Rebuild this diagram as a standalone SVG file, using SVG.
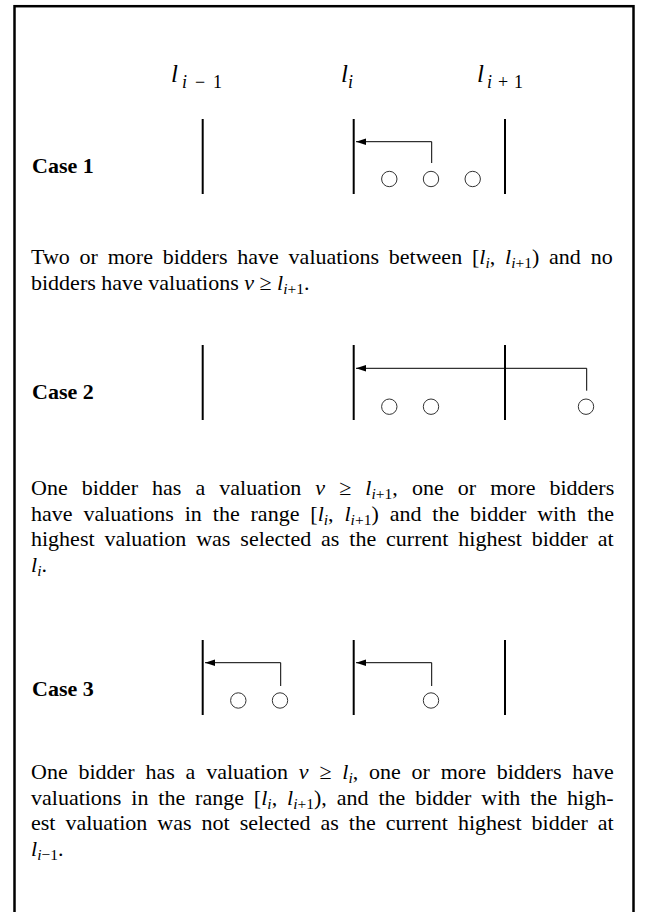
<svg xmlns="http://www.w3.org/2000/svg" width="648" height="912" viewBox="0 0 648 912">
<defs>
<marker id="ah" markerUnits="userSpaceOnUse" markerWidth="12" markerHeight="8" refX="10" refY="3.2" orient="auto"><path d="M0,0 L10,3.2 L0,6.4 z" fill="#000"/></marker>
</defs>
<style>
.t{font-family:"Liberation Serif","Times New Roman",serif;font-size:22px;fill:#000}
.b{font-weight:bold;font-size:22px}
.m{font-style:italic}
.s{font-size:15.5px}
.lab{font-size:25px}
.labs{font-size:18px}
.bar{stroke:#000;stroke-width:2}
.con{fill:none;stroke:#000;stroke-width:1}
.dot{fill:none;stroke:#333;stroke-width:1}
.frame{fill:none;stroke:#000;stroke-width:2.5}
</style>
<rect class="frame" x="14.5" y="6.2" width="619" height="930"/>

<g id="labels">
<text class="t m lab" x="171" y="82">l</text><text class="t labs" x="182" y="87.5" textLength="40" lengthAdjust="spacing"><tspan class="m">i</tspan>−1</text>
<text class="t m lab" x="341" y="82">l</text><text class="t labs m" x="348" y="87.5">i</text>
<text class="t m lab" x="477" y="82">l</text><text class="t labs" x="487" y="87.5" textLength="36" lengthAdjust="spacing"><tspan class="m">i</tspan>+1</text>
</g>

<g id="case1">
<text class="t b" x="32" y="172.7">Case 1</text>
<line class="bar" x1="202.7" y1="119" x2="202.7" y2="194"/>
<line class="bar" x1="353.7" y1="119" x2="353.7" y2="194"/>
<line class="bar" x1="505" y1="119" x2="505" y2="194"/>
<circle class="dot" cx="389.3" cy="179" r="7.7"/>
<circle class="dot" cx="431" cy="179" r="7.7"/>
<circle class="dot" cx="472.7" cy="179" r="7.7"/>
</g>

<g id="text1">
<text class="t" x="31" y="264" style="word-spacing:4.3px">Two or more bidders have valuations between [<tspan class="m">l</tspan><tspan class="s m" dy="4">i</tspan><tspan dy="-4">, </tspan><tspan class="m">l</tspan><tspan class="s" dy="4"><tspan class="m">i</tspan>+1</tspan><tspan dy="-4">) and no</tspan></text>
<text class="t" x="31" y="289.5">bidders have valuations <tspan class="m">v</tspan> ≥ <tspan class="m">l</tspan><tspan class="s" dy="4"><tspan class="m">i</tspan>+1</tspan><tspan dy="-4">.</tspan></text>
</g>

<g id="case2">
<text class="t b" x="32" y="398.7">Case 2</text>
<line class="bar" x1="202.7" y1="345" x2="202.7" y2="420"/>
<line class="bar" x1="353.7" y1="345" x2="353.7" y2="420"/>
<line class="bar" x1="505" y1="345" x2="505" y2="420"/>
<circle class="dot" cx="389.3" cy="406.7" r="7.7"/>
<circle class="dot" cx="431" cy="406.7" r="7.7"/>
<circle class="dot" cx="586" cy="406.7" r="7.7"/>
</g>

<g id="text2">
<text class="t" x="31" y="495" style="word-spacing:8.6px">One bidder has a valuation <tspan class="m">v</tspan> ≥ <tspan class="m">l</tspan><tspan class="s" dy="4"><tspan class="m">i</tspan>+1</tspan><tspan dy="-4">, one or more bidders</tspan></text>
<text class="t" x="31" y="520.5" style="word-spacing:5.4px">have valuations in the range [<tspan class="m">l</tspan><tspan class="s m" dy="4">i</tspan><tspan dy="-4">, </tspan><tspan class="m">l</tspan><tspan class="s" dy="4"><tspan class="m">i</tspan>+1</tspan><tspan dy="-4">) and the bidder with the</tspan></text>
<text class="t" x="31" y="546" style="word-spacing:4.4px">highest valuation was selected as the current highest bidder at</text>
<text class="t" x="31" y="571.5"><tspan class="m">l</tspan><tspan class="s m" dy="4">i</tspan><tspan dy="-4">.</tspan></text>
</g>

<g id="case3">
<text class="t b" x="32" y="696">Case 3</text>
<line class="bar" x1="202.7" y1="640" x2="202.7" y2="715"/>
<line class="bar" x1="353.7" y1="640" x2="353.7" y2="715"/>
<line class="bar" x1="505" y1="640" x2="505" y2="715"/>
<circle class="dot" cx="238.3" cy="700.5" r="7.7"/>
<circle class="dot" cx="280" cy="700.5" r="7.7"/>
<circle class="dot" cx="431" cy="700.5" r="7.7"/>
</g>

<g id="text3">
<text class="t" x="31" y="779" style="word-spacing:5.3px">One bidder has a valuation <tspan class="m">v</tspan> ≥ <tspan class="m">l</tspan><tspan class="s m" dy="4">i</tspan><tspan dy="-4">, one or more bidders have</tspan></text>
<text class="t" x="31" y="804.5" style="word-spacing:4.4px">valuations in the range [<tspan class="m">l</tspan><tspan class="s m" dy="4">i</tspan><tspan dy="-4">, </tspan><tspan class="m">l</tspan><tspan class="s" dy="4"><tspan class="m">i</tspan>+1</tspan><tspan dy="-4">), and the bidder with the high-</tspan></text>
<text class="t" x="31" y="830" style="word-spacing:4.5px">est valuation was not selected as the current highest bidder at</text>
<text class="t" x="31" y="855.5"><tspan class="m">l</tspan><tspan class="s" dy="4"><tspan class="m">i</tspan>−1</tspan><tspan dy="-4">.</tspan></text>
</g>

<g id="connectors">
<path class="con" d="M431.7,163 V141.7 H356" marker-end="url(#ah)"/>
<path class="con" d="M586.7,390.7 V368.3 H356" marker-end="url(#ah)"/>
<path class="con" d="M280.7,686 V662.7 H205" marker-end="url(#ah)"/>
<path class="con" d="M431.7,686 V662.7 H356" marker-end="url(#ah)"/>
</g>
</svg>
